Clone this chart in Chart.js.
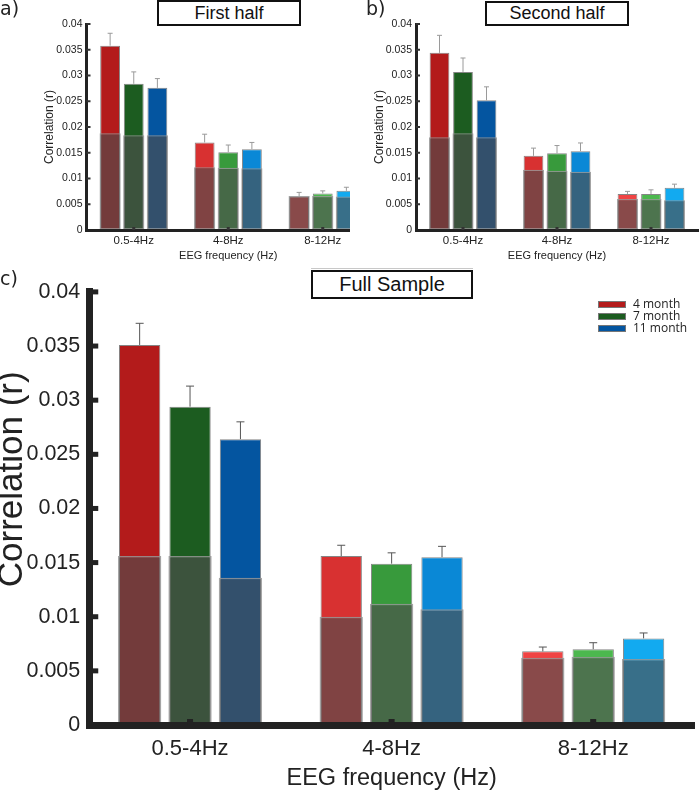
<!DOCTYPE html>
<html><head><meta charset="utf-8">
<script src="https://cdn.jsdelivr.net/npm/chart.js@4.4.0/dist/chart.umd.min.js"></script>
<style>
body{margin:0;background:#fff;width:700px;height:793px;position:relative;overflow:hidden;font-family:"Liberation Sans",Arial,sans-serif;}
.wrap{position:absolute;overflow:hidden;}
.tbox{position:absolute;border:2px solid #111;box-sizing:border-box;background:#fff;text-align:center;color:#111;font-family:"Liberation Sans",Arial,sans-serif;}
.plab{position:absolute;font-family:"DejaVu Sans",sans-serif;color:#222;}
.leg{position:absolute;left:598px;font-family:"Open Sans",sans-serif;font-size:12px;color:#222;}
.leg div{position:relative;height:12px;line-height:12px;}
.leg span.sw{position:absolute;left:0;top:2px;width:28px;height:7px;border:1px solid #777;box-sizing:border-box;}
.leg span.tx{position:absolute;left:35px;top:-1px;white-space:nowrap;}
</style></head>
<body>
<div class="wrap" style="left:0;top:0;width:350px;height:270px;"><canvas id="ca" width="372" height="270"></canvas></div>
<div class="wrap" style="left:350px;top:0;width:350px;height:270px;"><canvas id="cb" width="350" height="270"></canvas></div>
<div class="wrap" style="left:-4px;top:270px;width:704px;height:523px;"><canvas id="cc" width="704" height="523"></canvas></div>

<div style="position:absolute;left:311px;top:268px;width:162px;height:1px;background:#c8c8c8;"></div>
<div class="tbox" style="left:157px;top:0;width:144px;height:26px;font-size:18px;line-height:22px;">First half</div>
<div class="tbox" style="left:485px;top:1px;width:144px;height:25px;font-size:18px;line-height:21px;">Second half</div>
<div class="tbox" style="left:311px;top:270px;width:162px;height:29px;font-size:20px;line-height:25px;">Full Sample</div>
<div class="plab" style="left:0;top:-3px;font-size:19px;">a)</div>
<div class="plab" style="left:366px;top:-3px;font-size:19px;">b)</div>
<div class="plab" style="left:0;top:267px;font-size:19px;">c)</div>
<div class="leg" style="top:299px;">
  <div><span class="sw" style="background:#b31b1b"></span><span class="tx">4 month</span></div>
  <div><span class="sw" style="background:#1c5c20"></span><span class="tx">7 month</span></div>
  <div><span class="sw" style="background:#0455a0"></span><span class="tx">11 month</span></div>
</div>

<script>
// ---------- data ----------
const bands = ['0.5-4Hz', '4-8Hz', '8-12Hz'];
const seriesNames = ['4 month', '7 month', '11 month'];

// a) First half
const first4 = [0.0358, 0.0170, 0.0065];
const first7 = [0.0284, 0.0151, 0.0071];
const first11 = [0.0276, 0.0157, 0.0076];
const first4Err = [0.0024, 0.0016, 0.0008];
const first7Err = [0.0023, 0.0014, 0.0005];
const first11Err = [0.0018, 0.0013, 0.0007];
const first4Null = [0.0188, 0.0122, 0.0066];
const first7Null = [0.0184, 0.0121, 0.0066];
const first11Null = [0.0184, 0.0120, 0.0065];

// b) Second half
const second4 = [0.0344, 0.0144, 0.0070];
const second7 = [0.0307, 0.0149, 0.0070];
const second11 = [0.0252, 0.0153, 0.0082];
const second4Err = [0.0034, 0.0015, 0.0005];
const second7Err = [0.0027, 0.0015, 0.0008];
const second11Err = [0.0026, 0.0016, 0.0007];
const second4Null = [0.0180, 0.0117, 0.0060];
const second7Null = [0.0188, 0.0115, 0.0060];
const second11Null = [0.0180, 0.0113, 0.0058];

// c) Full sample
const full4 = [0.0351, 0.0156, 0.0068];
const full7 = [0.0294, 0.0149, 0.0070];
const full11 = [0.0264, 0.0155, 0.0080];
const full4Err = [0.0020, 0.0010, 0.0004];
const full7Err = [0.0019, 0.0010, 0.0006];
const full11Err = [0.0016, 0.0010, 0.0005];
const full4Null = [0.0156, 0.0100, 0.0062];
const full7Null = [0.0156, 0.0112, 0.0063];
const full11Null = [0.0136, 0.0107, 0.0061];

const yTicks = [0, 0.005, 0.01, 0.015, 0.02, 0.025, 0.03, 0.035, 0.04];

// colours per band (darker for low freq)
const reds = ['#b31b1b', '#d83131', '#f04444'];
const greens = ['#1c5c20', '#389a3c', '#4cb84e'];
const blues = ['#0455a0', '#0a88d6', '#12aaf0'];

// ---------- plugins ----------
const errorBars = {
  id: 'errorBars',
  afterDatasetsDraw(chart, args, o) {
    const ctx = chart.ctx, y = chart.scales.y;
    chart.data.datasets.forEach((ds, i) => {
      if (!ds.errors) return;
      const meta = chart.getDatasetMeta(i);
      meta.data.forEach((bar, j) => {
        const v = ds.data[j], e = ds.errors[j];
        const yb = y.getPixelForValue(v), yt = y.getPixelForValue(v + e);
        ctx.save();
        ctx.strokeStyle = o.color; ctx.lineWidth = o.width;
        ctx.beginPath();
        ctx.moveTo(bar.x, yb); ctx.lineTo(bar.x, yt);
        ctx.moveTo(bar.x - o.cap, yt); ctx.lineTo(bar.x + o.cap, yt);
        ctx.stroke();
        ctx.restore();
      });
    });
  }
};
const axisMarks = {
  id: 'axisMarks',
  afterDraw(chart, args, o) {
    const ctx = chart.ctx, y = chart.scales.y, x = chart.scales.x;
    ctx.save();
    ctx.fillStyle = o.color;
    y.ticks.forEach(t => {
      if (t.value === 0) return;
      const p = y.getPixelForValue(t.value);
      ctx.fillRect(y.right, p - o.yTickW / 2, o.yTickLen, o.yTickW);
    });
    x.ticks.forEach((t, i) => {
      const p = x.getPixelForTick(i);
      ctx.fillRect(p - o.xTickW / 2, x.top - o.xTickLen, o.xTickW, o.xTickLen);
    });
    ctx.restore();
  }
};

function fmt(v) { return parseFloat(Number(v).toFixed(4)).toString(); }

function makeChart(id, vals, errs, nulls, cfg) {
  const colorSets = [reds, greens, blues];
  const datasets = [];
  vals.forEach((v, k) => {
    datasets.push({
      label: seriesNames[k] + ' null', data: nulls[k], stack: 's' + k, order: 0,
      backgroundColor: 'rgba(78,78,78,0.64)', borderColor: 'rgba(150,150,150,0.85)', borderWidth: cfg.nullBorder,
      borderSkipped: false, barPercentage: cfg.nullBarPct, categoryPercentage: cfg.catPct
    });
  });
  vals.forEach((v, k) => {
    datasets.push({
      label: seriesNames[k], data: v, errors: errs[k], stack: 's' + k, order: 1,
      backgroundColor: colorSets[k], borderColor: '#858585', borderWidth: 1,
      borderSkipped: false, barPercentage: cfg.barPct, categoryPercentage: cfg.catPct
    });
  });
  return new Chart(document.getElementById(id), {
    type: 'bar',
    data: { labels: bands, datasets },
    options: {
      responsive: false, animation: false, devicePixelRatio: 1,
      layout: { padding: cfg.padding },
      plugins: {
        legend: { display: false }, tooltip: { enabled: false }, title: { display: false },
        errorBars: cfg.err, axisMarks: cfg.marks
      },
      scales: {
        x: {
          type: 'category', offset: true, stacked: true,
          grid: { display: true, drawOnChartArea: false, drawTicks: false },
          border: { display: true, width: cfg.axisW, color: '#222', z: 1 },
          ticks: { color: '#222', font: { family: 'Liberation Sans', size: cfg.xTickFont }, padding: cfg.xTickPad, maxRotation: 0 },
          title: { display: true, text: 'EEG frequency (Hz)', color: '#222',
                   font: { family: 'Liberation Sans', size: cfg.xTitleFont }, padding: { top: 0, bottom: cfg.xTitlePad } },
          afterFit: s => { s.height = cfg.xH; }
        },
        y: {
          min: 0, max: 0.04, stacked: false,
          afterBuildTicks: s => { s.ticks = yTicks.map(v => ({ value: v })); },
          grid: { display: true, drawOnChartArea: false, drawTicks: false },
          border: { display: true, width: cfg.axisW, color: '#222', z: 1 },
          ticks: { color: '#222', font: { family: 'Liberation Sans', size: cfg.yTickFont }, padding: cfg.yTickPad, callback: v => fmt(v) },
          title: { display: true, text: cfg.yTitle, color: '#222',
                   font: { family: 'Liberation Sans', size: cfg.yTitleFont, lineHeight: 1 }, padding: { top: cfg.yTitlePad, bottom: 0 } },
          afterFit: s => { s.width = cfg.yW; }
        }
      }
    },
    plugins: [errorBars, axisMarks]
  });
}

const smallCfg = (yW, yTitlePad, padRight) => ({
  padding: { left: 0, top: 24, right: padRight, bottom: 0 },
  catPct: 0.75, barPct: 0.84, nullBarPct: 0.9, nullBorder: 1.2,
  axisW: 3, xTickFont: 11.5, yTickFont: 10.5, xTitleFont: 11, yTitleFont: 12,
  xTickPad: 4, yTickPad: 4, xTitlePad: 7, yTitlePad: yTitlePad,
  xH: 40, yW: yW, yTitle: 'Correlation (r)',
  err: { color: '#9a9a9a', width: 1, cap: 2.5 },
  marks: { color: '#333', yTickLen: 4, yTickW: 2, xTickLen: 3, xTickW: 3 }
});

makeChart('ca', [first4, first7, first11], [first4Err, first7Err, first11Err],
  [first4Null, first7Null, first11Null], smallCfg(86.5, 44, 2));
makeChart('cb', [second4, second7, second11], [second4Err, second7Err, second11Err],
  [second4Null, second7Null, second11Null], smallCfg(66, 24, 2));

makeChart('cc', [full4, full7, full11], [full4Err, full7Err, full11Err],
  [full4Null, full7Null, full11Null], {
    padding: { left: 0, top: 14, right: 6, bottom: 0 },
    catPct: 0.75, barPct: 0.82, nullBarPct: 0.86, nullBorder: 1.5,
    axisW: 7, xTickFont: 22, yTickFont: 21.5, xTitleFont: 23.5, yTitleFont: 35,
    xTickPad: 11, yTickPad: 9, xTitlePad: 0, yTitlePad: -1,
    xH: 68, yW: 93.25, yTitle: '      Correlation (r)',
    err: { color: '#555', width: 1, cap: 4 },
    marks: { color: '#222', yTickLen: 9, yTickW: 5, xTickLen: 6, xTickW: 6 }
  });
</script>
</body></html>
